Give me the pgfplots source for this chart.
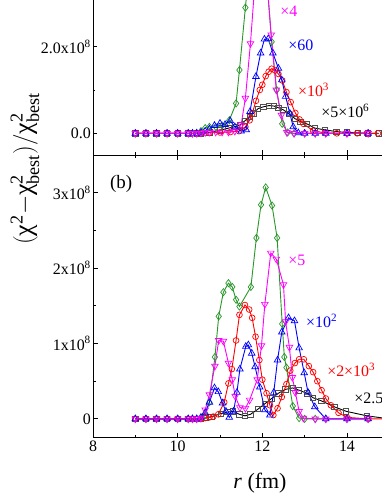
\documentclass[border=0pt]{standalone}
\usepackage{fontspec}
\setmainfont{Liberation Serif}
\usepackage{amsmath}
\usepackage{pgfplots}
\pgfplotsset{compat=1.18}
\definecolor{mygreen}{RGB}{40,150,40}
\definecolor{mymag}{RGB}{255,0,255}
\definecolor{myblue}{RGB}{0,0,255}
\definecolor{myred}{RGB}{255,0,0}
\definecolor{mygray}{RGB}{80,80,80}
\tikzset{ann/.style={anchor=base west, inner sep=0pt, font=\fontsize{16}{19}\selectfont}}
\pgfplotsset{
 common/.style={
  scale only axis, width=296.3bp, xmin=8, xmax=15,
  xtick={8,10,12,14}, minor xtick={9,11,13},
  tick align=inside, major tick length=4.5bp, minor tick length=2.5bp,
  axis line style={line width=0.9bp},
  every tick/.style={black, line width=0.9bp},
  tick label style={font=\fontsize{16}{19}\selectfont},
  yticklabel style={inner sep=2bp},
  /pgf/number format/assume math mode=true,
  every axis plot/.append style={line width=0.9bp},
 },
 sgreen/.style={color=mygreen, mark=diamond, mark size=3.6bp, mark options={solid,line width=0.7bp}},
 smag/.style={color=mymag, mark=triangle, mark size=3.8bp, mark options={solid,rotate=180,line width=0.7bp}},
 sblue/.style={color=myblue, mark=triangle, mark size=3.8bp, mark options={solid,line width=0.7bp}},
 sred/.style={color=myred, mark=o, mark size=2.9bp, mark options={solid,line width=0.7bp}},
 sblack/.style={color=black, mark=square, mark size=2.7bp, mark options={solid,draw=mygray,line width=0.7bp}},
}
\begin{document}
\begin{tikzpicture}
\useasboundingbox (-93bp,-56.3bp) rectangle (289bp,437.7bp);
\clip (-93bp,-56.3bp) rectangle (289bp,437.7bp);
% ---------------- bottom panel (b)
\begin{axis}[common, at={(0bp,0bp)}, anchor=south west,
  height=282.7bp, ymin=-0.25, ymax=3.5,
  ytick={0,1,2,3}, minor ytick={0.5,1.5,2.5},
  yticklabels={0, 1x10\textsuperscript{8}, 2x10\textsuperscript{8}, 3x10\textsuperscript{8}},
  xticklabels={8,10,12,14}]
\addplot[sblack] coordinates {(9,0)(9.25,0)(9.5,0)(9.75,0)(10,0)(10.25,0)(10.45,0)(10.55,0)(10.65,0.01)(10.8,0.03)(11.02,0.07)(11.17,0.09)(11.31,0.1)(11.46,0.06)(11.59,0.04)(11.72,0.06)(11.9,0.13)(12.06,0.2)(12.22,0.27)(12.38,0.34)(12.54,0.39)(12.72,0.41)(12.87,0.38)(13.05,0.34)(13.2,0.28)(13.39,0.24)(13.7,0.16)(13.98,0.1)(14.47,0.04)(15,0.0)};
\addplot[sgreen] coordinates {(9,0)(9.25,0)(9.5,0)(9.75,0)(10,0)(10.25,0)(10.35,0)(10.45,0)(10.55,0.01)(10.65,0.05)(10.75,0.22)(10.88,0.82)(10.97,1.36)(11.08,1.68)(11.2,1.80)(11.29,1.75)(11.38,1.58)(11.46,1.49)(11.73,1.75)(11.86,2.40)(11.97,2.84)(12.08,3.07)(12.23,2.83)(12.35,2.40)(12.47,1.26)(12.52,0.82)(12.57,0.68)(12.72,0.17)(12.87,0.01)(13.0,0)(13.25,0)(13.5,0)(14,0)(14.5,0)};
\addplot[sred] coordinates {(9,0)(9.25,0)(9.5,0)(9.75,0)(10,0)(10.25,0)(10.35,0)(10.45,0)(10.55,0)(10.65,0.01)(10.75,0.02)(10.84,0.03)(10.96,0.06)(11.1,0.22)(11.2,0.47)(11.28,0.66)(11.38,1.04)(11.46,1.38)(11.59,1.51)(11.69,1.45)(11.76,1.34)(11.84,1.09)(11.93,0.78)(12.0,0.52)(12.1,0.34)(12.18,0.18)(12.26,0.05)(12.36,0.14)(12.46,0.29)(12.57,0.46)(12.66,0.64)(12.77,0.74)(12.87,0.79)(12.98,0.79)(13.1,0.70)(13.2,0.62)(13.3,0.50)(13.4,0.38)(13.5,0.27)(13.62,0.18)(13.8,0.08)(14.0,0.02)(14.5,0)(15,0)};
\addplot[sblue] coordinates {(9,0)(9.25,0)(9.5,0)(9.75,0)(10,0)(10.25,0)(10.35,0)(10.45,0)(10.55,0.02)(10.65,0.08)(10.75,0.22)(10.87,0.41)(10.96,0.36)(11.06,0.21)(11.14,0.10)(11.22,0.02)(11.32,0.10)(11.4,0.35)(11.47,0.66)(11.61,0.96)(11.67,0.98)(11.75,0.87)(11.83,0.69)(11.94,0.42)(12.06,0.12)(12.18,0.05)(12.27,0.35)(12.36,0.78)(12.46,1.15)(12.62,1.34)(12.76,1.30)(12.87,0.94)(12.99,0.61)(13.08,0.35)(13.24,0.16)(13.5,0)(14,0)(14.5,0)};
\addplot[smag] coordinates {(9,0)(9.25,0)(9.5,0)(9.75,0)(10,0)(10.25,0)(10.35,0)(10.45,0)(10.55,0.01)(10.65,0.12)(10.75,0.32)(10.88,0.70)(10.97,1.04)(11.08,1.03)(11.2,0.74)(11.29,0.52)(11.36,0.30)(11.47,0.15)(11.6,0.14)(11.7,0.25)(11.88,0.52)(11.98,0.97)(12.06,1.52)(12.2,2.20)(12.33,2.12)(12.5,1.78)(12.55,1.29)(12.64,0.95)(12.71,0.55)(12.78,0.35)(12.87,0.10)(12.97,0.01)(13.25,0)(13.5,0)(14,0)(14.5,0)};
\node[ann, text=mymag] at (axis cs:12.61,2.04) {×5};
\node[ann, text=myblue] at (axis cs:13.03,1.21) {×10\textsuperscript{2}};
\node[ann, text=myred] at (axis cs:13.53,0.557) {×2×10\textsuperscript{3}};
\node[ann, text=black] at (axis cs:14.17,0.2) {×2.5};
\node[anchor=base west, inner sep=0pt, font=\fontsize{19}{22}\selectfont] at (axis cs:8.40,3.06) {(b)};
\end{axis}
% ---------------- top panel
\begin{axis}[common, at={(0bp,282.7bp)}, anchor=south west,
  height=195.1bp, ymin=-0.5, ymax=4.0,
  ytick={0,2}, minor ytick={1},
  yticklabels={0.0, 2.0x10\textsuperscript{8}},
  xticklabels={}]
\addplot[sblack] coordinates {(9,0)(9.25,0)(9.5,0)(9.75,0)(10,0)(10.25,0)(10.45,0)(10.55,0)(10.75,0.02)(11.0,0.07)(11.2,0.12)(11.35,0.15)(11.47,0.19)(11.59,0.29)(11.7,0.38)(11.79,0.46)(11.9,0.57)(12.02,0.61)(12.16,0.64)(12.27,0.63)(12.38,0.59)(12.5,0.54)(12.63,0.45)(12.77,0.34)(12.9,0.27)(13.05,0.22)(13.24,0.12)(13.48,0.08)(13.75,0.04)(14.0,0.02)(14.25,0.01)(14.5,0)(14.75,0)};
\addplot[sgreen] coordinates {(9,0)(9.25,0)(9.5,0)(9.75,0)(10,0)(10.25,0)(10.35,0)(10.45,0.01)(10.55,0.05)(10.65,0.12)(10.75,0.15)(10.9,0.15)(11.05,0.18)(11.22,0.30)(11.38,0.69)(11.46,1.46)(11.6,2.9)(11.75,4.4)(11.9,5.6)(12.05,4.3)(12.22,2.11)(12.34,1.0)(12.47,0.22)(12.6,0.02)(12.75,0)(13,0)(13.25,0)(13.5,0)(14,0)(14.5,0)};
\addplot[sred] coordinates {(9,0)(9.25,0)(9.5,0)(9.75,0)(10,0)(10.25,0)(10.45,0)(10.55,0)(10.75,0.01)(11.0,0.02)(11.25,0.03)(11.45,0.05)(11.6,0.15)(11.7,0.30)(11.76,0.45)(11.85,0.75)(11.94,1.0)(12.0,1.12)(12.08,1.32)(12.15,1.42)(12.22,1.49)(12.3,1.45)(12.38,1.37)(12.47,1.22)(12.57,0.95)(12.67,0.72)(12.78,0.47)(12.88,0.32)(12.97,0.22)(13.2,0.06)(13.48,0.01)(13.76,0)(14.0,0)(14.24,0)(14.47,0)(14.73,0)};
\addplot[sblue] coordinates {(9,0)(9.25,0)(9.5,0)(9.75,0)(10,0)(10.25,0)(10.35,0)(10.45,0)(10.55,0.02)(10.65,0.05)(10.75,0.10)(10.87,0.18)(11.0,0.23)(11.12,0.20)(11.24,0.29)(11.35,0.15)(11.5,0.05)(11.62,0.08)(11.71,0.5)(11.85,1.31)(11.96,1.85)(12.05,2.17)(12.14,2.18)(12.25,1.85)(12.38,1.5)(12.46,1.23)(12.55,0.85)(12.65,0.46)(12.73,0.15)(12.85,0.01)(13.0,0)(13.25,0)(13.5,0)(14,0)(14.5,0)};
\addplot[smag] coordinates {(9,0)(9.25,0)(9.5,0)(9.75,0)(10,0)(10.25,0)(10.35,0)(10.45,0)(10.55,0.01)(10.65,0.02)(10.75,0.03)(10.9,0.03)(11.05,0.03)(11.2,0.03)(11.35,0.05)(11.5,0.2)(11.6,0.81)(11.72,2.07)(11.85,3.8)(12.0,4.3)(12.1,3.6)(12.21,2.27)(12.33,1.0)(12.45,0.42)(12.58,0.02)(12.75,0)(13,0)(13.25,0)(13.5,0)(14,0)(14.5,0)};
\node[ann, text=mymag] at (axis cs:12.42,2.69) {×4};
\node[ann, text=myblue] at (axis cs:12.61,1.92) {×60};
\node[ann, text=myred] at (axis cs:12.84,0.84) {×10\textsuperscript{3}};
\node[ann, text=black] at (axis cs:13.39,0.37) {×5×10\textsuperscript{6}};
\end{axis}
\node[rotate=90, font=\fontsize{26}{30}\selectfont] at (-68bp,268.7bp)
  {$(\text{χ}^{\text{2}}{-}\text{χ}^{\text{2}}_{\text{best}})/\text{χ}^{\text{2}}_{\text{best}}$};
\node[font=\fontsize{22}{26}\selectfont] at (167bp,-45.3bp) {\textit{r} (fm)};
\end{tikzpicture}
\end{document}
